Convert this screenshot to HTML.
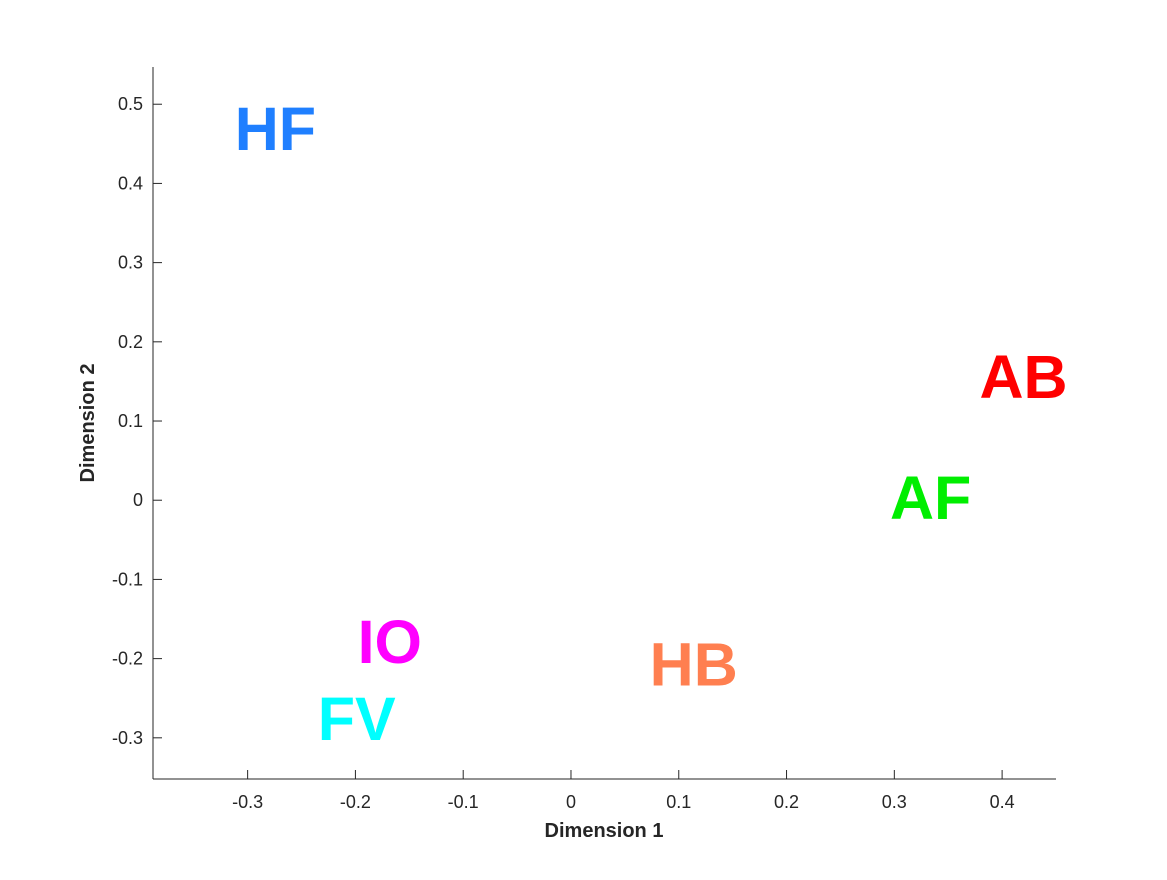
<!DOCTYPE html>
<html><head><meta charset="utf-8"><style>
body{margin:0;background:#fff}
text{font-family:"Liberation Sans",Arial,sans-serif}
</style></head><body>
<svg id="chart" width="1167" height="875" xmlns="http://www.w3.org/2000/svg">
<rect width="1167" height="875" fill="#fff"/>
<g id="axes"></g>
<g id="labels"></g>
<text x="604" y="837" text-anchor="middle" font-size="20" font-weight="bold" fill="#262626">Dimension 1</text>
<text transform="translate(94,423) rotate(-90)" text-anchor="middle" font-size="20" font-weight="bold" fill="#262626">Dimension 2</text>
</svg>
<script>
const names=["HF","AB","AF","IO","HB","FV"];
const xs=[-0.312,0.379,0.296,-0.198,0.073,-0.235];
const ys=[0.47,0.157,0.004,-0.178,-0.206,-0.275];
const colors=["#1f7fff","#ff0000","#00ee00","#ff00ff","#ff7f50","#00ffff"];
const xTicks=[-0.3,-0.2,-0.1,0,0.1,0.2,0.3,0.4];
const xTickLabels=["-0.3","-0.2","-0.1","0","0.1","0.2","0.3","0.4"];
const yTicks=[-0.3,-0.2,-0.1,0,0.1,0.2,0.3,0.4,0.5];
const yTickLabels=["-0.3","-0.2","-0.1","0","0.1","0.2","0.3","0.4","0.5"];
const L=153,R=1056,T=67,B=779;
const xmin=-0.3878,xmax=0.45,ymin=-0.352,ymax=0.547;
const sx=v=>L+(v-xmin)/(xmax-xmin)*(R-L);
const sy=v=>B-(v-ymin)/(ymax-ymin)*(B-T);
const NS="http://www.w3.org/2000/svg";
const ax=document.getElementById('axes'),lb=document.getElementById('labels');
function mk(tag,attrs,parent){const e=document.createElementNS(NS,tag);for(const k in attrs)e.setAttribute(k,attrs[k]);parent.appendChild(e);return e;}
let e=mk('line',{x1:L,y1:T,x2:L,y2:B,stroke:'#262626','stroke-width':1},ax);


e=mk('line',{x1:L,y1:B,x2:R,y2:B,stroke:'#262626','stroke-width':1},ax);


xTicks.forEach((v,i)=>{
 const t=mk('line',{x1:sx(v),y1:B,x2:sx(v),y2:B-9,stroke:'#262626'},ax);
 
 
 const l=mk('text',{x:sx(v),y:B+29,'text-anchor':'middle','font-size':18,fill:'#262626'},ax);
 l.textContent=xTickLabels[i];
 
 
});
yTicks.forEach((v,i)=>{
 const t=mk('line',{x1:L,y1:sy(v),x2:L+9,y2:sy(v),stroke:'#262626'},ax);
 
 
 const l=mk('text',{x:L-10,y:sy(v)+6,'text-anchor':'end','font-size':18,fill:'#262626'},ax);
 l.textContent=yTickLabels[i];
 
 
});
names.forEach((n,i)=>{
 const t=mk('text',{x:sx(xs[i]),y:sy(ys[i])+22,'font-size':61,'font-weight':'bold',fill:colors[i]},lb);
 t.textContent=n;
 
 
});
</script>
</body></html>
